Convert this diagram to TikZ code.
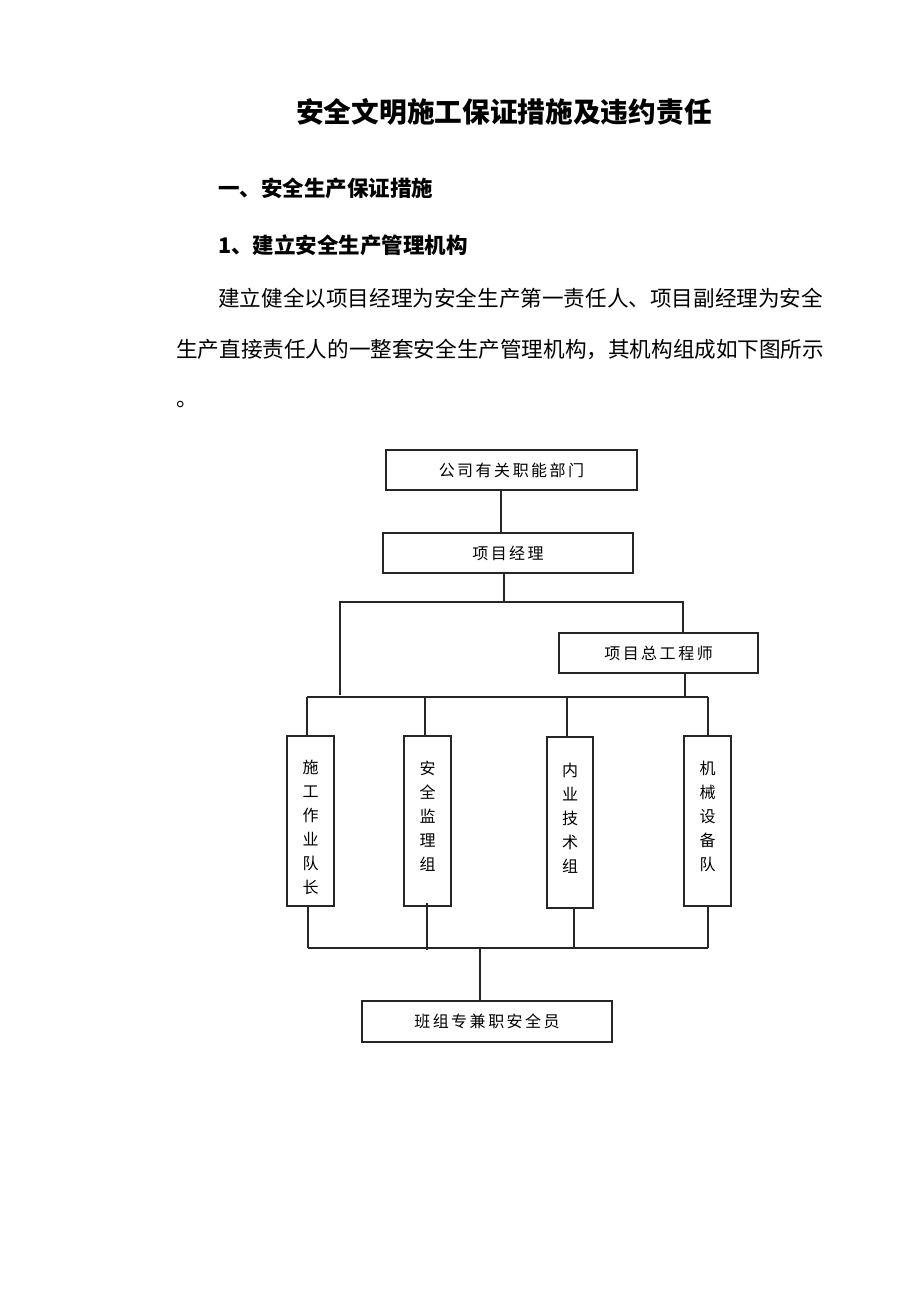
\documentclass[tikz,border=0pt]{standalone}
\usepackage{fontspec}
\newfontfamily\cjk{Noto Sans CJK SC}
\makeatletter
\newcommand\lsp[2]{\def\lsp@sep{\hspace{#1}}\@tfor\lsp@c:=#2\do{\lsp@c\lsp@sep}\unskip}
\makeatother
\begin{document}
\begin{tikzpicture}[x=1pt,y=-1pt,
  conn/.style={line width=1.2pt,draw=black!85},
  hbox/.style={draw=black!85,line width=1.2pt,inner sep=0pt,minimum height=40pt,font=\cjk\fontsize{16}{18}\selectfont},
  vbox/.style={draw=black!85,line width=1.2pt,inner sep=0pt,minimum width=47pt,minimum height=170pt},
  vtext/.style={inner sep=0pt,align=center,font=\cjk\fontsize{16}{24}\selectfont},
  ttl/.style={inner sep=0pt,anchor=west,font=\cjk\bfseries\fontsize{27.7}{30}\selectfont},
  hd/.style={inner sep=0pt,anchor=west,font=\cjk\bfseries\fontsize{21.5}{24}\selectfont},
  body/.style={inner sep=0pt,anchor=west,font=\cjk\fontsize{21.6}{24}\selectfont}]
\useasboundingbox[fill=white] (0,0) rectangle (920,1302);
% texts
\node[ttl] (title) at (296,112) {安全文明施工保证措施及违约责任};
\node[hd] (h1) at (218,188) {一、安全生产保证措施};
\node[hd] (h2) at (218,245) {1、建立安全生产管理机构};
\node[body] (p1) at (218,298) {建立健全以项目经理为安全生产第一责任人、项目副经理为安全};
\node[body] (p2) at (176,349) {生产直接责任人的一整套安全生产管理机构，其机构组成如下图所示};
\node[body] (p3) at (176,405) {。};
% boxes
\node[hbox,minimum width=251pt] (b1) at (511.5,470) {\lsp{2.5pt}{公司有关职能部门}};
\node[hbox,minimum width=250pt] (b2) at (508,553) {\lsp{2.5pt}{项目经理}};
\node[hbox,minimum width=199pt] (b3) at (658.5,653) {\lsp{2.5pt}{项目总工程师}};
\node[vbox,label={[vtext,yshift=-6pt]center:{施\\工\\作\\业\\队\\长}}] (v1) at (310.5,821) {};
\node[vbox,label={[vtext,yshift=4.5pt]center:{安\\全\\监\\理\\组}}] (v2) at (427.5,821) {};
\node[vbox,minimum width=46pt,minimum height=171pt,label={[vtext,yshift=4.5pt]center:{内\\业\\技\\术\\组}}] (v3) at (570,822.5) {};
\node[vbox,label={[vtext,yshift=5pt]center:{机\\械\\设\\备\\队}}] (v4) at (707.5,821) {};
\node[hbox,minimum width=250pt,minimum height=41pt] (b4) at (487,1021.5) {\lsp{2.5pt}{班组专兼职安全员}};
% junction coordinates
\coordinate (tl) at (340,602);
\coordinate (tr) at (683,602);
\coordinate (ml) at (307,697);
\coordinate (mr) at (708,697);
\coordinate (bl) at (308,948);
\coordinate (br) at (708,948);
% connectors
\draw[conn] (b1.south -| 501,0) -- (b2.north -| 501,0);
\draw[conn] (b2.south -| 504,0) -- (504,602);
\draw[conn] (340,695) -- (tl) -- (tr) -- (b3.north -| tr);
\draw[conn] (b3.south -| 685,0) -- (685,697);
\draw[conn] (ml) -- (mr);
\draw[conn] (ml) -- (v1.north -| ml);
\draw[conn] (425,697) -- (v2.north -| 425,0);
\draw[conn] (567,697) -- (v3.north -| 567,0);
\draw[conn] (mr) -- (v4.north -| mr);
\draw[conn] (v1.south -| bl) -- (bl);
\draw[conn] (427,903) -- (427,950);
\draw[conn] (v3.south -| 574,0) -- (574,948);
\draw[conn] (v4.south -| br) -- (br);
\draw[conn] (bl) -- (br);
\draw[conn] (480,948) -- (b4.north -| 480,0);
\end{tikzpicture}
\end{document}
